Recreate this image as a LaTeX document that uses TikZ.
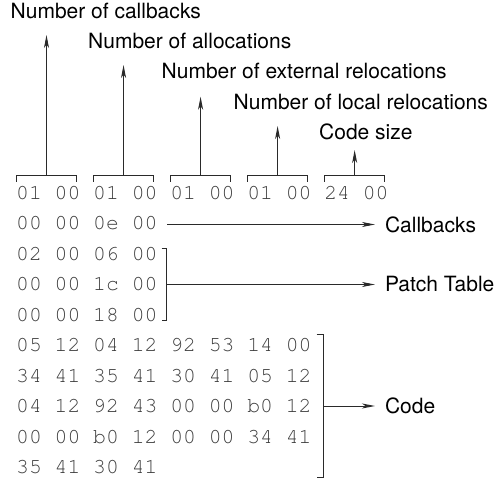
\documentclass[tikz,border=0pt]{standalone}
\usepackage[T1]{fontenc}
\usepackage{fontspec}
\setmainfont{TeX Gyre Heros}
\usepackage{xcolor}
\usetikzlibrary{arrows.meta,positioning,calc}

\definecolor{hexgray}{HTML}{3C3C3C}
\definecolor{linegray}{HTML}{2A2A2A}

\tikzset{
  hex/.style={font=\fontencoding{T1}\fontfamily{pcr}\fontsize{21.4}{25}\selectfont, text=hexgray, inner sep=0pt, anchor=base west},
  lbl/.style={font=\fontsize{21}{25}\selectfont, inner sep=0pt, anchor=base west},
  side/.style={font=\fontsize{21}{25}\selectfont, inner sep=0pt, outer xsep=10pt, anchor=west},
  brk/.style={draw=linegray, line width=1pt},
  >={Stealth[length=13pt,width=5pt,inset=3.5pt]}
}

\begin{document}
\begin{tikzpicture}[x=1pt, y=-1pt]
  \useasboundingbox (0,0) rectangle (499,479);
  \coordinate (rx) at (375,0);

  % header bytes with their brackets
  \foreach \i/\txt/\tip in {1/01 00/35,2/01 00/65,3/01 00/96.7,4/01 00/126,5/24 00/150} {
    \node[hex] (g\i) at ({16+77.04*(\i-1)},199.5) {\txt};
    \coordinate (b\i) at ({46.5+77.04*(\i-1)},175.5);
    \coordinate (t\i) at ({46.5+77.04*(\i-1)},\tip);
    \draw[brk] ({16.5+77.04*(\i-1)},181.5) |- (b\i) -| ({76.5+77.04*(\i-1)},181.5);
    \draw[brk, ->] (b\i) -- (t\i);
  }

  % header field names
  \foreach \i/\x/\txt in {1/10.5/Number of callbacks,2/88/Number of allocations,
      3/161.5/Number of external relocations,4/233.5/Number of local relocations,5/319/Code size} {
    \node[lbl] (n\i) at (\x,{18+30.45*(\i-1)}) {\txt};
  }

  % remaining rows
  \node[hex] (r1) at (16,{199.5+30.45*1}) {00 00 0e 00};
  \node[hex] (r2) at (16,{199.5+30.45*2}) {02 00 06 00};
  \node[hex] (r3) at (16,{199.5+30.45*3}) {00 00 1c 00};
  \node[hex] (r4) at (16,{199.5+30.45*4}) {00 00 18 00};
  \node[hex] (r5) at (16,{199.5+30.45*5}) {05 12 04 12 92 53 14 00};
  \node[hex] (r6) at (16,{199.5+30.45*6}) {34 41 35 41 30 41 05 12};
  \node[hex] (r7) at (16,{199.5+30.45*7}) {04 12 92 43 00 00 b0 12};
  \node[hex] (r8) at (16,{199.5+30.45*8}) {00 00 b0 12 00 00 34 41};
  \node[hex] (r9) at (16,{199.5+30.45*9}) {35 41 30 41};

  % callbacks
  \coordinate (cbs) at (167,224.5);
  \node[side] (lcb) at (cbs -| rx) {Callbacks};
  \draw[brk, ->] (cbs) -- (lcb.west);

  % patch table
  \coordinate (pt1) at (166.5,248.5);
  \coordinate (pt2) at (166.5,320.5);
  \draw[brk] ([xshift=-5pt]pt1) -- (pt1) -- (pt2) -- ([xshift=-5pt]pt2);
  \coordinate (pb) at ($(pt1)!0.5!(pt2)$);
  \node[side] (lpt) at (pb -| rx) {Patch Table};
  \draw[brk, ->] (pb) -- (lpt.west);

  % code
  \coordinate (cd1) at (323.5,334.5);
  \coordinate (cd2) at (323.5,477.5);
  \draw[brk] ([xshift=-7pt]cd1) -- (cd1) -- (cd2) -- ([xshift=-7pt]cd2);
  \coordinate (cb) at ($(cd1)!0.5!(cd2)$);
  \node[side] (lcd) at (cb -| rx) {Code};
  \draw[brk, ->] (cb) -- (lcd.west);
\end{tikzpicture}
\end{document}
